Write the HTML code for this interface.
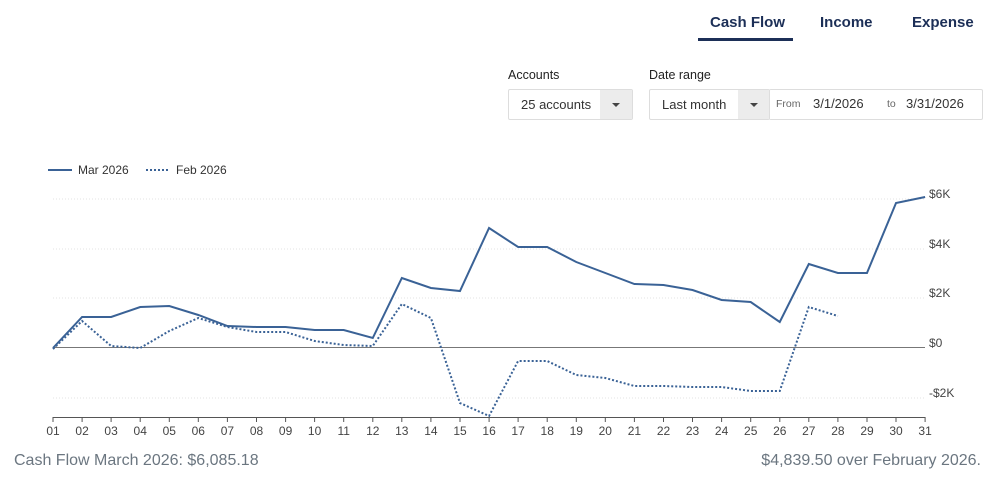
<!DOCTYPE html>
<html><head><style>
body{margin:0;width:1002px;height:484px;background:#fff;font-family:"Liberation Sans",sans-serif;position:relative;overflow:hidden;color:#333}
.tab{position:absolute;top:14px;font-size:15px;font-weight:bold;color:#1c2f57}
.lbl{position:absolute;top:68px;font-size:12.5px;color:#222}
.box{position:absolute;top:89px;height:31px;border:1px solid #ddd;border-radius:2px;box-sizing:border-box;font-size:13px;color:#333}
.dd{position:absolute;top:0;right:0;width:32px;height:29px;background:#ececec}
.dd:after{content:"";position:absolute;left:12px;top:13px;border-left:4px solid transparent;border-right:4px solid transparent;border-top:4px solid #444}
.ft{position:absolute;top:452px;font-size:16px;color:#6b7680}
</style></head><body>
<div class="tab" style="left:710px">Cash Flow</div>
<div style="position:absolute;left:698px;top:38px;width:95px;height:3px;background:#1c2f57"></div>
<div class="tab" style="left:820px">Income</div>
<div class="tab" style="left:912px">Expense</div>
<div class="lbl" style="left:508px">Accounts</div>
<div class="lbl" style="left:649px">Date range</div>
<div class="box" style="left:508px;width:125px"><span style="position:absolute;left:12px;top:7px">25 accounts</span><div class="dd"></div></div>
<div class="box" style="left:649px;width:121px"><span style="position:absolute;left:12px;top:7px">Last month</span><div class="dd" style="width:31px"></div></div>
<div class="box" style="left:769px;width:214px;border-left:none"><span style="position:absolute;left:7px;top:8px;font-size:10.5px;color:#666">From</span><span style="position:absolute;left:44px;top:6px">3/1/2026</span><span style="position:absolute;left:118px;top:8px;font-size:10.5px;color:#666">to</span><span style="position:absolute;left:137px;top:6px">3/31/2026</span></div>
<svg width="1002" height="484" style="position:absolute;left:0;top:0" font-family="Liberation Sans, sans-serif">
<line x1="48" y1="170" x2="72" y2="170" stroke="#3a6296" stroke-width="2"/>
<text x="78" y="174" font-size="12" fill="#333">Mar 2026</text>
<line x1="146" y1="170" x2="170" y2="170" stroke="#3a6296" stroke-width="2" stroke-dasharray="2,2"/>
<text x="176" y="174" font-size="12" fill="#333">Feb 2026</text>
<g stroke="#e3e3e3" stroke-dasharray="1,2">
<line x1="53" y1="199" x2="925" y2="199"/><line x1="53" y1="249" x2="925" y2="249"/><line x1="53" y1="298" x2="925" y2="298"/><line x1="53" y1="398" x2="925" y2="398"/></g>
<line x1="53" y1="347.5" x2="925" y2="347.5" stroke="#777" stroke-width="1"/>
<line x1="53" y1="417.5" x2="925" y2="417.5" stroke="#555" stroke-width="1"/>
<g font-size="12" fill="#444">
<text x="929" y="198">$6K</text><text x="929" y="248">$4K</text><text x="929" y="297">$2K</text><text x="929" y="347">$0</text><text x="929" y="397">-$2K</text></g>
<g id="ticks" stroke="#555"></g>
<g id="tl" font-size="12" fill="#444" text-anchor="middle"></g>
<polyline id="mar" fill="none" stroke="#3a6296" stroke-width="2" points=""/>
<polyline id="feb" fill="none" stroke="#3a6296" stroke-width="2" stroke-dasharray="2,2" points=""/>
</svg>
<div class="ft" style="left:14px">Cash Flow March 2026: $6,085.18</div>
<div class="ft" style="right:21px">$4,839.50 over February 2026.</div>
<script>
var m=[348,317,317,307,306,315,326,327,327,330,330,338,278,288,291,228,247,247,262,273,284,285,290,300,302,322,264,273,273,203,197];
var f=[349,321,346,348,331,318,327,332,332,341,345,346,304,318,403,416,361,361,375,378,386,386,387,387,391,391,307,316];
function X(i){return 53+29.07*i}
document.getElementById('mar').setAttribute('points',m.map((y,i)=>X(i)+','+y).join(' '));
document.getElementById('feb').setAttribute('points',f.map((y,i)=>X(i)+','+y).join(' '));
var t='',l='';
for(var i=0;i<31;i++){var x=X(i).toFixed(1);t+='<line x1="'+x+'" y1="417" x2="'+x+'" y2="422"/>';l+='<text x="'+x+'" y="435">'+String(i+1).padStart(2,'0')+'</text>';}
document.getElementById('ticks').innerHTML=t;document.getElementById('tl').innerHTML=l;
</script>
</body></html>
